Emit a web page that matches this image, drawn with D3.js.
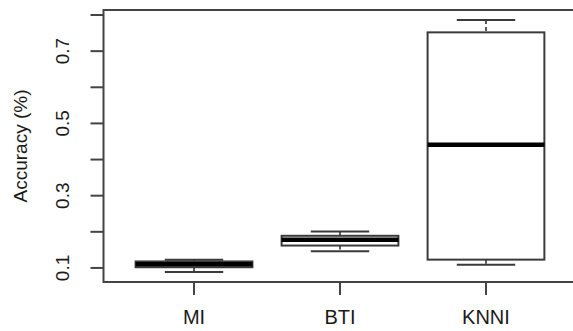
<!DOCTYPE html>
<html><head><meta charset="utf-8">
<script src="https://cdn.jsdelivr.net/npm/d3@7"></script>
<style>body{margin:0;background:#fff}svg{display:block}text{font-family:"Liberation Sans",Arial,sans-serif;fill:#1a1a1a}</style>
</head><body>
<svg id="c" width="573" height="331"></svg>
<script>
const categories = ["MI", "BTI", "KNNI"];
const lowerWhisker = [0.089, 0.146, 0.109];
const q1 = [0.102, 0.162, 0.123];
const median = [0.110, 0.178, 0.441];
const q3 = [0.118, 0.189, 0.752];
const upperWhisker = [0.123, 0.201, 0.786];
const yTicks = [0.1, 0.2, 0.3, 0.4, 0.5, 0.6, 0.7, 0.8];
const yLabels = [0.1, 0.3, 0.5, 0.7];
const yTitle = "Accuracy (%)";

const svg = d3.select("#c");
const lo = d3.min(lowerWhisker), hi = d3.max(upperWhisker), ext = (hi - lo) * 0.04;
const pLeft = 103.5, pRight = 576.5, pTop = 10, pBottom = 282;
const y = d3.scaleLinear().domain([lo - ext, hi + ext]).range([pBottom, pTop]);
const x = d3.scaleLinear().domain([0.38, 3.62]).range([pLeft, pRight]);
const half = (x(1.4) - x(1)), staple = half / 2;
const stroke = "#3a3a3a";

const data = categories.map((c, i) => ({c, i: i + 1, lw: lowerWhisker[i], q1: q1[i], md: median[i], q3: q3[i], uw: upperWhisker[i]}));

const g = svg.append("g");
data.forEach(d => {
  const cx = x(d.i);
  g.append("line").attr("x1", cx).attr("x2", cx).attr("y1", y(d.uw)).attr("y2", y(d.q3)).attr("stroke", "#222").attr("stroke-width", 1.5).attr("stroke-dasharray", "4,3");
  g.append("line").attr("x1", cx).attr("x2", cx).attr("y1", y(d.q1)).attr("y2", y(d.lw)).attr("stroke", "#222").attr("stroke-width", 1.5).attr("stroke-dasharray", "4,3");
  g.append("line").attr("x1", cx - staple).attr("x2", cx + staple).attr("y1", y(d.uw)).attr("y2", y(d.uw)).attr("stroke", stroke).attr("stroke-width", 2);
  g.append("line").attr("x1", cx - staple).attr("x2", cx + staple).attr("y1", y(d.lw)).attr("y2", y(d.lw)).attr("stroke", stroke).attr("stroke-width", 2);
  g.append("rect").attr("x", cx - half).attr("width", 2 * half).attr("y", y(d.q3)).attr("height", y(d.q1) - y(d.q3)).attr("fill", "#fff").attr("stroke", stroke).attr("stroke-width", 2);
  g.append("line").attr("x1", cx - half).attr("x2", cx + half).attr("y1", y(d.md)).attr("y2", y(d.md)).attr("stroke", "#000").attr("stroke-width", 4.5);
});

svg.append("rect").attr("x", pLeft).attr("y", pTop).attr("width", pRight - pLeft).attr("height", pBottom - pTop).attr("fill", "none").attr("stroke", "#444").attr("stroke-width", 2);

const yAxis = svg.append("g");
yAxis.selectAll("line").data(yTicks).join("line").attr("x1", pLeft - 13).attr("x2", pLeft).attr("y1", d => y(d)).attr("y2", d => y(d)).attr("stroke", "#444").attr("stroke-width", 2);
yAxis.selectAll("text").data(yLabels).join("text").attr("transform", d => `translate(69,${y(d)}) rotate(-90)`).attr("text-anchor", "middle").attr("font-size", 19).text(d => d3.format(".1f")(d));
svg.append("text").attr("transform", `translate(27,${(pTop + pBottom) / 2}) rotate(-90)`).attr("text-anchor", "middle").attr("font-size", 19).text(yTitle);

const xAxis = svg.append("g");
xAxis.selectAll("line").data(data).join("line").attr("x1", d => x(d.i)).attr("x2", d => x(d.i)).attr("y1", pBottom).attr("y2", pBottom + 13).attr("stroke", "#444").attr("stroke-width", 2);
xAxis.selectAll("text").data(data).join("text").attr("x", d => x(d.i)).attr("y", 324).attr("text-anchor", "middle").attr("font-size", 20).text(d => d.c);
</script>
</body></html>
